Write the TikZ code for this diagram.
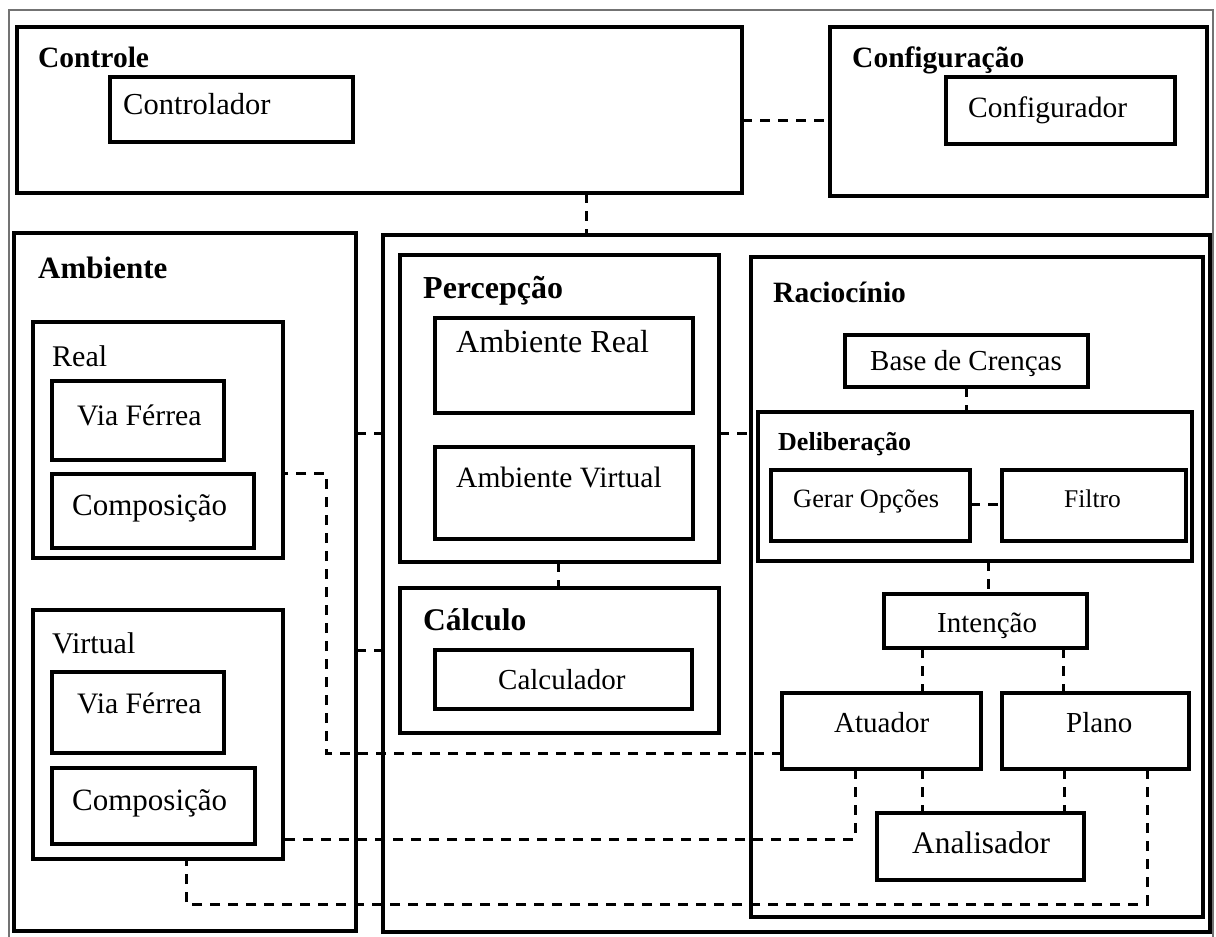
\documentclass[tikz,border=0pt]{standalone}
\usepackage{fontspec}
\setmainfont{Liberation Serif}
\begin{document}
\begin{tikzpicture}[x=1pt,y=-1pt,
  box/.style={draw, line width=3.4pt, inner sep=0pt, outer sep=0pt},
  conn/.style={line width=3pt, dash pattern=on 10pt off 8pt},
  frame/.style={line width=1.6pt, draw=black!55},
  txt/.style={inner sep=0pt, anchor=base west},
  head/.style={txt, font=\fontsize{29.5}{31}\selectfont\bfseries},
  item/.style={txt, font=\fontsize{29}{31}\selectfont}]
\useasboundingbox (0,0) rectangle (1216,937);
% box given by its name and two corners
\newcommand\cornerbox[5]{\node[box, minimum width={#4-#2}, minimum height={#5-#3}] (#1) at ({(#2+#4)/2},{(#3+#5)/2}) {};}

% page frame
\draw[frame] (9,950) -- (9,10) -- (1213,10) -- (1213,950);

% control layer
\cornerbox{controle}{17}{27}{742}{193}
\cornerbox{controlador}{110}{77}{353}{142}
\cornerbox{config}{830}{27}{1207}{196}
\cornerbox{configurador}{946}{77}{1175}{144}
\node[head] (tControle) at (38,67) {Controle};
\node[item, font=\fontsize{30.5}{32}\selectfont] (tControlador) at (123,114) {Controlador};
\node[head] (tConfig) at (852,67) {Configuração};
\node[item, font=\fontsize{29.5}{31}\selectfont] (tConfigurador) at (968,117) {Configurador};

% environment
\cornerbox{ambiente}{14}{233}{356}{931}
\cornerbox{real}{33}{322}{283}{558}
\cornerbox{viaR}{52}{381}{224}{460}
\cornerbox{compR}{52}{474}{254}{548}
\cornerbox{virtual}{33}{610}{283}{859}
\cornerbox{viaV}{52}{672}{224}{753}
\cornerbox{compV}{52}{768}{255}{844}
\node[head, font=\fontsize{31}{33}\selectfont\bfseries] (tAmbiente) at (38,278) {Ambiente};
\node[item, font=\fontsize{30}{32}\selectfont] (tReal) at (52,366) {Real};
\node[item, font=\fontsize{29.7}{31}\selectfont] (tViaR) at (77,425) {Via Férrea};
\node[item, font=\fontsize{31}{33}\selectfont] (tCompR) at (72,515) {Composição};
\node[item, font=\fontsize{30}{32}\selectfont] (tVirtual) at (52,653) {Virtual};
\node[item, font=\fontsize{29.7}{31}\selectfont] (tViaV) at (77,713) {Via Férrea};
\node[item, font=\fontsize{31}{33}\selectfont] (tCompV) at (72,810) {Composição};

% agent
\cornerbox{agente}{383}{235}{1210}{932}
\cornerbox{percepcao}{400}{255}{719}{562}
\cornerbox{ambReal}{435}{318}{693}{413}
\cornerbox{ambVirt}{435}{447}{693}{539}
\cornerbox{calculo}{400}{588}{719}{733}
\cornerbox{calculador}{435}{650}{692}{709}
\node[head, font=\fontsize{32}{34}\selectfont\bfseries] (tPercepcao) at (423,298) {Percepção};
\node[item, font=\fontsize{32}{34}\selectfont] (tAmbReal) at (456,352) {Ambiente Real};
\node[item, font=\fontsize{29.5}{31}\selectfont] (tAmbVirt) at (456,487) {Ambiente Virtual};
\node[head, font=\fontsize{31.5}{33}\selectfont\bfseries] (tCalculo) at (423,630) {Cálculo};
\node[item] (tCalculador) at (498,689) {Calculador};

% reasoning
\cornerbox{raciocinio}{751}{257}{1203}{917}
\cornerbox{crencas}{845}{335}{1088}{387}
\cornerbox{delib}{758}{412}{1192}{561}
\cornerbox{gerar}{771}{470}{970}{541}
\cornerbox{filtro}{1002}{470}{1186}{541}
\cornerbox{intencao}{884}{594}{1087}{648}
\cornerbox{atuador}{782}{693}{981}{769}
\cornerbox{plano}{1002}{693}{1189}{769}
\cornerbox{analisador}{877}{813}{1084}{880}
\node[head] (tRaciocinio) at (773,302) {Raciocínio};
\node[item, anchor=base, font=\fontsize{29}{31}\selectfont] (tCrencas) at (966,370) {Base de Crenças};
\node[head, font=\fontsize{26}{28}\selectfont\bfseries] (tDelib) at (778,450) {Deliberação};
\node[item, font=\fontsize{26.4}{28}\selectfont] (tGerar) at (793,507) {Gerar Opções};
\node[item, font=\fontsize{25.5}{27}\selectfont] (tFiltro) at (1064,507) {Filtro};
\node[item] (tIntencao) at (937,632) {Intenção};
\node[item] (tAtuador) at (834,732) {Atuador};
\node[item] (tPlano) at (1066,732) {Plano};
\node[item, font=\fontsize{31.4}{33}\selectfont] (tAnalisador) at (912,853) {Analisador};

% dashed links
\draw[conn] (controle.east |- 0,120) -- (config.west |- 0,120);
\draw[conn] (controle.south -| 586,0) -- (agente.north -| 586,0);
\draw[conn] (ambiente.east |- 0,433) -- (agente.west |- 0,433);
\draw[conn] (ambiente.east |- 0,650) -- (agente.west |- 0,650);
\draw[conn] (percepcao.east |- 0,433) -- (raciocinio.west |- 0,433);
\draw[conn] (percepcao.south -| 558,0) -- (calculo.north -| 558,0);
\draw[conn] (crencas.south -| 966,0) -- (delib.north -| 966,0);
\draw[conn] (gerar.east |- 0,504) -- (filtro.west |- 0,504);
\draw[conn] (delib.south -| 988,0) -- (intencao.north -| 988,0);
\draw[conn] (intencao.south -| 922,0) -- (atuador.north -| 922,0);
\draw[conn] (intencao.south -| 1063,0) -- (plano.north -| 1063,0);
\draw[conn] (atuador.south -| 922,0) -- (analisador.north -| 922,0);
\draw[conn] (plano.south -| 1064,0) -- (analisador.north -| 1064,0);
\draw[conn] (atuador.west |- 0,753) -- (326,753) -- (326,473) -- (real.east |- 0,473);
\draw[conn] (atuador.south -| 855,0) -- (855,839) -- (virtual.east |- 0,839);
\draw[conn] (plano.south -| 1147,0) -- (1147,904) -- (186,904) -- (virtual.south -| 186,0);
\end{tikzpicture}
\end{document}
